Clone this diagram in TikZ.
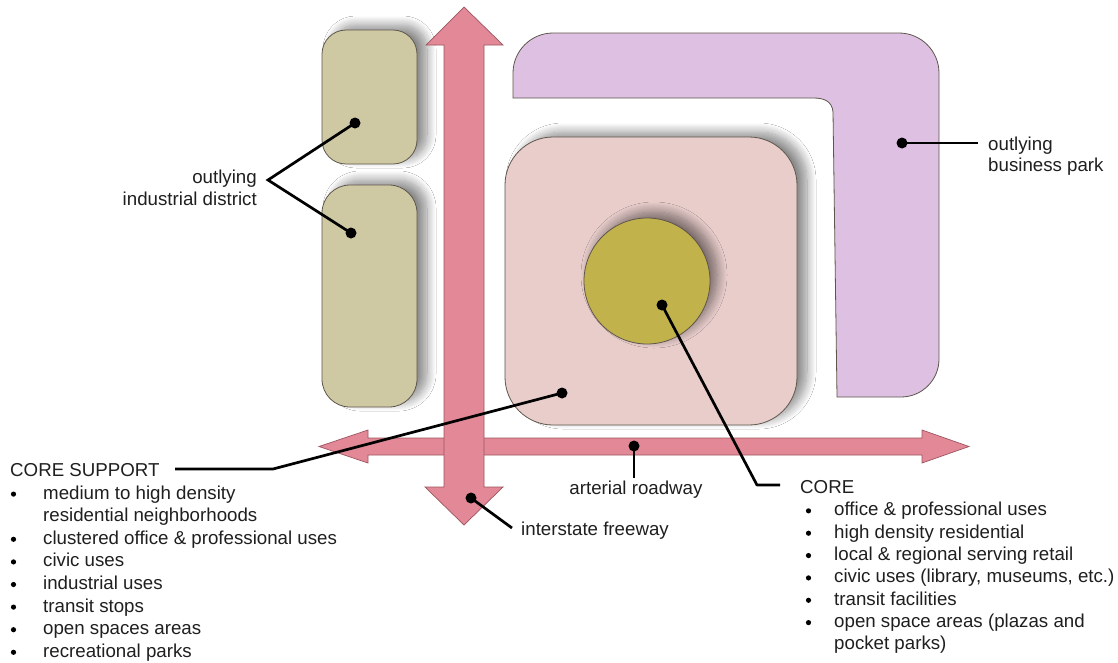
\documentclass[tikz,border=0pt]{standalone}
\usepackage{fontspec}
\setmainfont{Liberation Sans}
\usetikzlibrary{shadows.blur}
\definecolor{indcol}{HTML}{CFC9A3}
\definecolor{roadcol}{HTML}{E28896}
\definecolor{roadedge}{HTML}{9C5560}
\definecolor{bizcol}{HTML}{DEC1E2}
\definecolor{supcol}{HTML}{E8CDCB}
\definecolor{corecol}{HTML}{C2B24B}
\definecolor{edgecol}{HTML}{5E564C}
\begin{document}
\begin{tikzpicture}[x=1pt,y=-1pt,
  lbl/.style={inner sep=0pt,font=\fontsize{18.7}{22.5}\selectfont,text=black!88},
  lead/.style={line width=2.7pt,black},
  dotmark/.style={fill=black},
  shade/.style={blur shadow={shadow xshift=10pt,shadow yshift=5pt,shadow blur radius=9pt,shadow opacity=45,shadow blur steps=14}},
  blockshape/.style={draw=edgecol,line width=0.8pt,rectangle,inner sep=0pt},
  road/.style={fill=roadcol,draw=roadedge,line width=0.7pt,line join=miter}
]
\useasboundingbox (0,0) rectangle (1118,662);
\fill[white] (0,0) rectangle (1118,662);

% outlying business park
\draw[fill=bizcol,draw=edgecol,line width=0.8pt]
  (513,98) -- (513,73) .. controls (513,51) and (531,33) .. (553,33) -- (899,33)
  .. controls (921,33) and (939,51) .. (939,73) -- (939,359)
  .. controls (939,380) and (922,397) .. (901,397)
  -- (837,397) -- (833,112) .. controls (832,101) and (824,98) .. (813,98) -- cycle;

% industrial blocks
\node[blockshape,shade,fill=indcol,rounded corners=24pt,minimum width=95pt,minimum height=134pt] (ind1) at (369.5,97) {};
\node[blockshape,shade,fill=indcol,rounded corners=28pt,minimum width=95pt,minimum height=222pt] (ind2) at (369.5,296) {};

% core support square and core circle
\node[blockshape,shade,fill=supcol,rounded corners=48pt,minimum width=292pt,minimum height=288pt] (sup) at (651,281) {};
\node[draw=edgecol,line width=0.8pt,circle,fill=corecol,minimum size=126pt,inner sep=0pt,
  blur shadow={shadow xshift=7pt,shadow yshift=6pt,shadow blur radius=10pt,shadow opacity=50,shadow blur steps=14}] (core) at (647,281) {};

% arterial roadway (horizontal)
\draw[road] (319,446.5) -- (368,430) -- (368,438) -- (922,438) -- (922,430) -- (969,446.5)
  -- (922,463) -- (922,455) -- (368,455) -- (368,463) -- cycle;
% interstate freeway (vertical)
\draw[road] (464,7) -- (503,45) -- (484,45) -- (484,487) -- (503,487) -- (464,525)
  -- (425,487) -- (444,487) -- (444,45) -- (426,45) -- cycle;

% marker points
\coordinate (dind1) at (355,123);
\coordinate (dind2) at (351,233);
\coordinate (jind) at (268,180);
\coordinate (dbiz) at (902,143);
\coordinate (ebiz) at (978,143);
\coordinate (dsup) at (562,393);
\coordinate (ksup) at (273,469);
\coordinate (esup) at (175,469);
\coordinate (dcore) at (662,305);
\coordinate (kcore) at (757,485);
\coordinate (ecore) at (780,485);
\coordinate (dart) at (634,446);
\coordinate (eart) at (634,478);
\coordinate (dfwy) at (471,498);
\coordinate (efwy) at (512,528);

% leader lines
\draw[lead,line join=miter] (dind1) -- (jind) -- (dind2);
\draw[lead] (dbiz) -- (ebiz);
\draw[lead,line join=round] (dsup) -- (ksup) -- (esup);
\draw[lead,line join=round] (dcore) -- (kcore) -- (ecore);
\draw[lead] (dart) -- (eart);
\draw[lead] (dfwy) -- (efwy);
\foreach \p in {dind1,dind2,dbiz,dsup,dcore,dart,dfwy}
  \fill[dotmark] (\p) circle (5.5pt);

% labels
\node[lbl,anchor=base east] (tind1) at (257,183.5) {outlying};
\node[lbl,anchor=base east] (tind2) at (257,205.5) {industrial district};
\node[lbl,anchor=base west] (tbiz1) at (988,150.5) {outlying};
\node[lbl,anchor=base west] (tbiz2) at (988,171.5) {business park};
\node[lbl,anchor=base] (tart) at (636,494) {arterial roadway};
\node[lbl,anchor=base west] (tfwy) at (521,535.5) {interstate freeway};

% core support list
\node[lbl,anchor=base west] (tsup) at (10,476.5) {CORE SUPPORT};
\foreach \t [count=\i] in {medium to high density,residential neighborhoods,clustered office \& professional uses,civic uses,industrial uses,transit stops,open spaces areas,recreational parks}{
  \node[lbl,anchor=base west] (tsup\i) at (43,{476.5+22.6*\i}) {\t};
}
\foreach \i in {1,3,4,5,6,7,8}
  \fill (13.5,{476.5+22.6*\i-5}) circle (2.6pt);

% core list
\node[lbl,anchor=base west] (tcore) at (800,493.5) {CORE};
\foreach \t [count=\i] in {office \& professional uses,high density residential,local \& regional serving retail,{civic uses (library, museums, etc.)},transit facilities,open space areas (plazas and,pocket parks)}{
  \node[lbl,anchor=base west] (tcore\i) at (834,{493.5+22.35*\i}) {\t};
}
\foreach \i in {1,2,3,4,5,6}
  \fill (808.5,{493.5+22.35*\i-5}) circle (2.6pt);
\end{tikzpicture}
\end{document}
